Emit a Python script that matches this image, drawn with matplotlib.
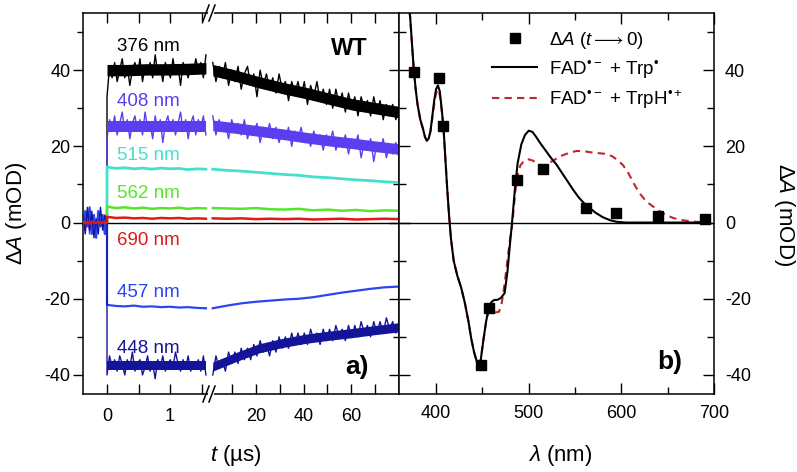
import numpy as np
import matplotlib
matplotlib.use("Agg")
import matplotlib.pyplot as plt
from matplotlib.lines import Line2D
from matplotlib.patches import Polygon

plt.rcParams['font.family'] = ['Liberation Sans', 'DejaVu Sans']
plt.rcParams['mathtext.fontset'] = 'custom'
plt.rcParams['mathtext.rm'] = 'Liberation Sans'
plt.rcParams['mathtext.it'] = 'Liberation Sans:italic'
plt.rcParams['mathtext.bf'] = 'Liberation Sans:bold'
plt.rcParams['mathtext.fallback'] = 'stixsans'
plt.rcParams['axes.unicode_minus'] = False

# ---------------- data: panel a) kinetic traces ----------------
t_pre = np.linspace(-0.38, 0.0, 12)          # us, before flash
t1 = np.linspace(0.0, 1.57, 40)              # us, first segment
t2 = np.linspace(2.0, 80.0, 60)              # us, second segment
t1s = np.linspace(0.0, 1.57, 12)             # smooth traces, first segment
t2s = np.linspace(2.0, 80.0, 14)             # smooth traces, second segment
tE1 = np.linspace(0.0, 1.57, 6)              # noise-band envelopes, first segment
tE2 = np.linspace(2.0, 80.0, 9)              # noise-band envelopes, second segment

pre_376 = [0.5, -0.5, 1, -1, 0.5, 0, -0.5, 1, -1, 0.5, 0, 0]
pre_408 = [1, -2, 3, -3, 2, 0, -2, 3, -1, 1, -2, 1]
pre_448 = [2, -3, 4, -2, 3, -4, 1, -3, 4, -2, 2, -1]
pre_457 = [-2, 3, -1, 4, -3, 2, -4, 3, -1, 2, -3, 0]
pre_flat = [0.3, -0.2, 0.1, -0.3, 0.2, 0, -0.1, 0.2, -0.2, 0.1, 0, 0]

a376_1 = [33, 41, 38, 42, 37, 40, 43, 38, 41, 36, 40, 42, 39, 43, 37, 41, 39, 42, 38, 44,
          39, 41, 37, 42, 40, 38, 43, 39, 41, 36, 42, 40, 38, 41, 39, 43, 40, 42, 38, 44]
a376_2 = [42, 37, 41, 38, 42, 36, 40, 37, 41, 35, 39, 41, 36, 39, 33, 40, 36, 39, 35, 38,
          34, 39, 35, 37, 32, 37, 34, 37, 33, 37, 31, 36, 33, 37, 32, 35, 31, 35, 30, 35,
          31, 34, 29, 34, 30, 33, 28, 33, 30, 32, 28, 33, 29, 32, 27, 31, 28, 31, 27, 30]
a408_1 = [22, 27, 24, 28, 23, 26, 29, 24, 27, 22, 26, 28, 24, 27, 23, 29, 25, 26, 22, 28,
          24, 27, 21, 26, 28, 24, 27, 23, 26, 29, 24, 27, 22, 26, 28, 23, 27, 25, 28, 23]
a408_2 = [28, 23, 27, 24, 26, 22, 27, 24, 26, 23, 27, 22, 25, 24, 26, 21, 25, 23, 26, 22,
          25, 21, 24, 22, 25, 20, 24, 22, 25, 21, 23, 20, 24, 21, 23, 19, 23, 21, 24, 19,
          22, 20, 23, 18, 22, 20, 23, 17, 21, 19, 22, 16, 21, 19, 22, 17, 20, 18, 21, 17]
a448_1 = [-40, -35, -38, -36, -39, -35, -37, -40, -36, -38, -34, -39, -37, -36, -40, -38, -35, -39, -37, -41,
          -36, -38, -35, -39, -37, -36, -38, -34, -37, -39, -36, -38, -35, -39, -37, -38, -36, -39, -35, -40]
a448_2 = [-40, -35, -38, -36, -39, -34, -37, -34, -37, -33, -36, -33, -36, -32, -35, -31, -34, -32, -35, -31,
          -34, -30, -33, -30, -33, -29, -32, -29, -32, -29, -32, -28, -31, -29, -32, -28, -31, -28, -31, -27,
          -30, -28, -31, -27, -30, -27, -30, -26, -29, -27, -30, -26, -29, -26, -29, -25, -28, -26, -29, -26]
a515_1 = [14.6, 14.2, 14.4, 14.1, 14.3, 14.0, 14.3, 14.1, 14.2, 13.9, 14.1, 14.0]
a515_2 = [14.0, 13.7, 13.5, 13.2, 12.9, 12.6, 12.4, 12.0, 11.8, 11.5, 11.2, 11.0, 10.7, 10.5]
a562_1 = [4.2, 3.8, 4.0, 3.7, 3.9, 3.6, 3.8, 3.7, 3.9, 3.6, 3.8, 3.7]
a562_2 = [3.8, 3.7, 3.6, 3.8, 3.5, 3.4, 3.6, 3.2, 3.4, 3.1, 3.3, 3.0, 3.2, 3.1]
a690_1 = [1.5, 1.2, 1.3, 1.1, 1.2, 1.0, 1.2, 1.1, 1.2, 1.0, 1.1, 1.0]
a690_2 = [1.1, 1.0, 1.1, 0.9, 1.0, 0.9, 1.0, 0.8, 0.9, 1.0, 0.8, 0.9, 1.0, 0.9]
a457_1 = [-21.6, -21.9, -22.0, -21.8, -22.1, -22.0, -22.2, -22.1, -22.3, -22.2, -22.4, -22.5]
a457_2 = [-22.5, -21.8, -21.2, -20.8, -20.5, -20.2, -20.0, -19.6, -19.0, -18.4, -17.9, -17.4, -17.0, -16.8]

# dense-noise band cores (lower, upper)
b376_1_lo = [38.5, 38.5, 38.7, 38.7, 38.8, 39.0]
b376_1_hi = [41.5, 41.5, 41.7, 41.7, 41.8, 42.0]
b376_2_lo = [38.5, 37.0, 35.3, 33.8, 32.5, 31.0, 29.5, 28.5, 27.5]
b376_2_hi = [41.5, 40.0, 38.3, 36.8, 35.5, 34.0, 32.5, 31.5, 30.5]
b408_1_lo = [23.8, 23.8, 23.8, 23.8, 23.8, 23.8]
b408_1_hi = [26.6, 26.6, 26.6, 26.6, 26.6, 26.6]
b408_2_lo = [24.1, 23.4, 22.6, 21.8, 20.9, 20.1, 19.4, 18.6, 17.9]
b408_2_hi = [26.9, 26.2, 25.4, 24.6, 23.7, 22.9, 22.2, 21.4, 20.7]
b448_1_lo = [-38.7, -38.7, -38.7, -38.7, -38.7, -38.7]
b448_1_hi = [-36.3, -36.3, -36.3, -36.3, -36.3, -36.3]
b448_2_lo = [-39.0, -36.5, -34.2, -32.8, -31.7, -30.9, -30.2, -29.4, -28.7]
b448_2_hi = [-36.6, -34.1, -31.8, -30.4, -29.3, -28.5, -27.8, -27.0, -26.3]

trace_labels = ['376 nm', '408 nm', '515 nm', '562 nm', '690 nm', '457 nm', '448 nm']
trace_colors = ['#000000', '#5a3ff0', '#45e0cc', '#55e62a', '#e01818', '#2a46f0', '#14149a']

# ---------------- data: panel b) spectra ----------------
sq_lam = [376, 403, 408, 448, 457, 487, 515, 562, 594, 640, 690]
sq_dA = [39.5, 38.0, 25.4, -37.3, -22.3, 11.2, 14.0, 3.9, 2.4, 1.7, 1.0]

trp_lam = [368, 370, 372, 374, 376, 378, 380, 383, 386, 388, 390, 392, 394, 396, 398, 400, 402, 404,
           406, 408, 410, 412, 414, 416, 419, 423, 427, 431, 435, 438, 441, 444, 446, 448, 451, 454,
           457, 460, 463, 466, 470, 474, 477, 480, 482, 485, 488, 492, 496, 500, 504, 508, 512, 518,
           524, 530, 536, 542, 548, 554, 560, 566, 572, 580, 588, 595, 605, 620, 650, 690]
trp_dA = [62, 58, 54, 47, 40, 35, 31, 27, 24.5, 22.5, 21.5, 22, 24, 28, 32, 35, 36, 34.5,
          30, 25, 17, 9, 2, -4, -10, -14, -17, -21, -26, -30.5, -34, -36.5, -37.2, -36.5, -31, -26,
          -22.3, -20.8, -20.3, -20.3, -19.8, -18.5, -13, -5, 0, 8.5, 15.5, 20.5, 23, 24.1, 23.8, 22.5, 21, 19,
          17, 15.2, 13, 10.8, 8.6, 6.6, 5, 3.8, 2.6, 1.4, 0.6, 0.2, 0, 0, 0, 0]

trph_lam = [368, 370, 372, 374, 376, 378, 380, 383, 386, 388, 390, 392, 394, 396, 398, 400, 402, 404,
            406, 408, 410, 412, 414, 416, 419, 423, 427, 431, 435, 438, 441, 444, 446, 448, 451, 454,
            457, 460, 464, 468, 471, 474, 477, 480, 482, 484, 486, 488, 491, 495, 500, 505, 510, 515,
            520, 528, 536, 545, 552, 560, 568, 576, 584, 590, 596, 602, 608, 614, 620, 626, 632, 640,
            648, 656, 664, 672, 680, 690]
trph_dA = [62, 58, 54, 47, 40, 35, 31, 27, 24.5, 22.5, 21.5, 22, 24, 27.5, 31, 34, 35, 33.5,
           29.5, 25, 17, 9, 2, -4, -10, -14, -17, -21, -26, -30.5, -34, -36.5, -37.2, -36.5, -31, -26,
           -23, -23.2, -23.6, -23.4, -21, -16, -10, -4, -1, 4, 9.2, 12.5, 15, 16.2, 16.6, 16.2, 15.3, 14.9,
           15.3, 16.5, 17.6, 18.4, 18.8, 18.7, 18.4, 18.2, 18, 17.4, 16.4, 15, 12.8, 10, 7.6, 5.8, 4.6, 3.2,
           2, 1.2, 0.7, 0.4, 0.2, 0.1]

# ---------------- figure ----------------
fig = plt.figure(figsize=(7.97, 4.72), dpi=100)
W, H = 797.0, 472.0
B, HH = 78 / H, 381 / H
ax1 = fig.add_axes([83 / W, B, 125 / W, HH])
ax2 = fig.add_axes([208 / W, B, 191 / W, HH], sharey=ax1)
axr = fig.add_axes([399 / W, B, 315 / W, HH])

YL = (-45, 55)
for ax in (ax1, ax2, axr):
    ax.set_ylim(*YL)
    for s in ax.spines.values():
        s.set_linewidth(1.1)
    ax.axhline(0, color='black', lw=1.0, zorder=1)

ax1.set_xlim(-0.381, 1.603)
ax2.set_xlim(0, 80)
axr.set_xlim(360, 700)

# noise bands
bands1 = {0: (b376_1_lo, b376_1_hi), 1: (b408_1_lo, b408_1_hi), 6: (b448_1_lo, b448_1_hi)}
bands2 = {0: (b376_2_lo, b376_2_hi), 1: (b408_2_lo, b408_2_hi), 6: (b448_2_lo, b448_2_hi)}

# traces
pres = [pre_376, pre_408, pre_flat, pre_flat, pre_flat, pre_457, pre_448]
seg1 = [(t1, a376_1), (t1, a408_1), (t1s, a515_1), (t1s, a562_1), (t1s, a690_1), (t1s, a457_1), (t1, a448_1)]
seg2 = [(t2, a376_2), (t2, a408_2), (t2s, a515_2), (t2s, a562_2), (t2s, a690_2), (t2s, a457_2), (t2, a448_2)]
lws = [1.0, 1.0, 2.0, 1.8, 1.8, 1.6, 1.0]
order = [0, 1, 2, 3, 5, 6, 4]
for i in order:
    c = trace_colors[i]
    if i in bands1:
        ax1.fill_between(tE1, bands1[i][0], bands1[i][1], color=c, lw=0, zorder=3)
        ax2.fill_between(tE2, bands2[i][0], bands2[i][1], color=c, lw=0, zorder=3)
    ts, vs = seg1[i]
    ax1.plot(np.concatenate([t_pre, ts]), np.concatenate([pres[i], vs]), color=c, lw=lws[i], zorder=3)
    ts2, vs2 = seg2[i]
    ax2.plot(ts2, vs2, color=c, lw=lws[i], zorder=3)

label_y = [46.3, 31.9, 17.5, 7.6, -4.7, -18.3, -33]
for lab, c, y in zip(trace_labels, trace_colors, label_y):
    ax1.text(0.16, y, lab, color=c, fontsize=13.5, va='center', ha='left', zorder=5)

ax2.text(0.74, 0.908, 'WT', transform=ax2.transAxes, fontsize=17, fontweight='bold', ha='center', va='center')
ax2.text(0.78, 0.071, 'a)', transform=ax2.transAxes, fontsize=19, fontweight='bold', ha='center', va='center')
axr.text(0.86, 0.084, 'b)', transform=axr.transAxes, fontsize=19, fontweight='bold', ha='center', va='center')

# spectra
axr.plot(sq_lam, sq_dA, 's', color='black', ms=6.5, ls='none', zorder=5,
         label=r'$\Delta\mathit{A}$ ($\mathit{t}\longrightarrow$0)')
axr.plot(trp_lam, trp_dA, '-', color='black', lw=1.5, zorder=4, label='FAD$^{•−}$ + Trp$^{•}$')
axr.plot(trph_lam, trph_dA, '--', color='#c0272d', lw=1.5, dashes=(3.5, 2.5), zorder=3,
         label='FAD$^{•−}$ + TrpH$^{•+}$')
axr.legend(loc='upper left', bbox_to_anchor=(0.255, 0.99), frameon=False, fontsize=13.5,
           handlelength=2.4, handletextpad=0.6, labelspacing=0.38, borderpad=0.2)

# ticks
tick_kw = dict(labelsize=13, width=1.0)
ax1.set_yticks([-40, -20, 0, 20, 40])
ax1.set_yticks([-30, -10, 10, 30, 50], minor=True)
ax1.set_xticks([0, 1])
ax1.set_xticks([0.5, 1.5], minor=True)
ax1.tick_params(axis='y', which='both', direction='out', left=True, right=False, pad=2, **tick_kw)
ax1.tick_params(axis='y', which='major', length=7)
ax1.tick_params(axis='y', which='minor', length=4)
ax1.tick_params(axis='x', which='both', direction='in', top=True, bottom=True, pad=10, **tick_kw)
ax1.tick_params(axis='x', which='major', length=7)
ax1.tick_params(axis='x', which='minor', length=7)
ax1.spines['right'].set_visible(False)

ax2.set_xticks([20, 40, 60])
ax2.set_xticks([10, 30, 50, 70], minor=True)
ax2.tick_params(axis='x', which='both', direction='in', top=True, bottom=True, pad=10, length=7, **tick_kw)
ax2.tick_params(axis='y', which='both', direction='in', left=False, right=True, labelleft=False, **tick_kw)
ax2.tick_params(axis='y', which='major', length=7)
ax2.tick_params(axis='y', which='minor', length=4)
ax2.spines['left'].set_visible(False)

axr.set_yticks([-40, -20, 0, 20, 40])
axr.set_yticks([-30, -10, 10, 30, 50], minor=True)
axr.set_xticks([400, 500, 600, 700])
axr.set_xticks([450, 550, 650], minor=True)
axr.tick_params(axis='both', which='both', direction='in', top=True, bottom=True, left=True, right=True,
                labelleft=False, labelright=True, pad=8, **tick_kw)
axr.tick_params(axis='both', which='major', length=8)
axr.tick_params(axis='x', which='minor', length=5)
axr.tick_params(axis='y', which='minor', length=5)

# axis labels
fig.text(236 / W, 1 - 455 / H, r'$\mathit{t}$ (µs)', fontsize=16, ha='center', va='center')
fig.text(560 / W, 1 - 455 / H, r'$\mathit{\lambda}$ (nm)', fontsize=16, ha='center', va='center')
fig.text(17 / W, 1 - 213 / H, r'$\Delta\mathit{A}$ (mOD)', fontsize=16, ha='center', va='center', rotation=90)
fig.text(784 / W, 1 - 215 / H, r'$\Delta\mathit{A}$ (mOD)', fontsize=16, ha='center', va='center', rotation=270)

# axis break marks
for yc in (13, 394):
    gap = Polygon([[206 / W, 1 - (yc + 7) / H], [212 / W, 1 - (yc + 7) / H],
                   [216 / W, 1 - (yc - 7) / H], [210 / W, 1 - (yc - 7) / H]],
                  closed=True, transform=fig.transFigure, facecolor='white', edgecolor='none', zorder=10)
    fig.add_artist(gap)
    for x0 in (203, 209):
        fig.add_artist(Line2D([x0 / W, (x0 + 6) / W], [1 - (yc + 8) / H, 1 - (yc - 8) / H],
                              transform=fig.transFigure, color='black', lw=1.1, zorder=11))

fig.savefig('out.png', dpi=100)
